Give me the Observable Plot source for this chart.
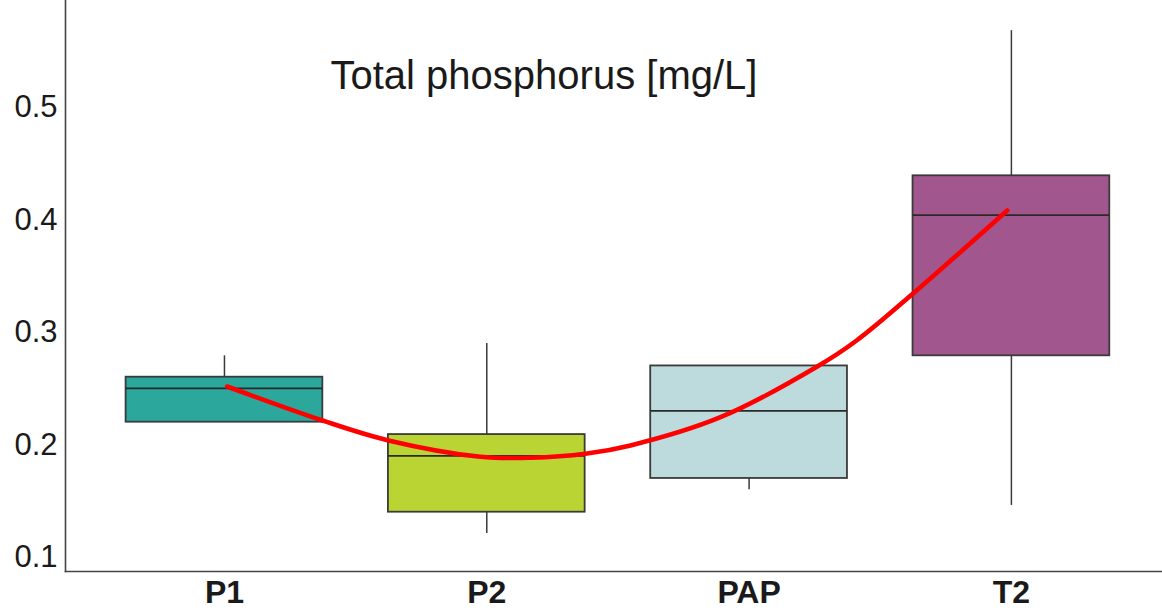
<!DOCTYPE html>
<html>
<head>
<meta charset="utf-8">
<script src="https://cdn.jsdelivr.net/npm/d3@7"></script>
<script src="https://cdn.jsdelivr.net/npm/@observablehq/plot@0.6"></script>
<style>
  html, body { margin: 0; padding: 0; background: #fff; }
  #chart svg { display: block; }
</style>
</head>
<body>
<div id="chart"></div>
<script>
// ---- data ----
const categories = ["P1", "P2", "PAP", "T2"];
const whiskerLow  = [0.22, 0.121, 0.16, 0.146];
const q1          = [0.22, 0.14, 0.17, 0.279];
const medians     = [0.25, 0.19, 0.23, 0.404];
const q3          = [0.26, 0.209, 0.27, 0.439];
const whiskerHigh = [0.279, 0.29, 0.27, 0.568];
const colors      = ["#2ba89b", "#b9d433", "#bddadd", "#a2568e"];

// red trend curve (x in category index units)
const trendX = [0.01, 0.374, 0.625, 0.976, 1.167, 1.376, 1.548, 1.891, 2.26, 2.41, 2.634, 2.984];
const trendY = [0.2517, 0.2215, 0.2038, 0.1893, 0.1884, 0.1919, 0.1993, 0.2244, 0.2695, 0.2926, 0.3362, 0.4082];

const yTicks = [0.1, 0.2, 0.3, 0.4, 0.5];
const title = "Total phosphorus [mg/L]";

// ---- tables ----
const boxes = categories.map((c, i) => ({
  cat: c, i, lo: whiskerLow[i], q1: q1[i], med: medians[i], q3: q3[i], hi: whiskerHigh[i], color: colors[i]
}));
const trend = trendX.map((x, k) => ({x, y: trendY[k]}));
const half = 0.375;

const font = "'Liberation Sans', Arial, Helvetica, sans-serif";
const stroke = "#3a3a3a";

const plot = Plot.plot({
  width: 1162,
  height: 614,
  marginLeft: 65,
  marginRight: 0,
  marginTop: 0,
  marginBottom: 43,
  style: {fontFamily: font, background: "#fff", color: "#1a1a1a"},
  x: {type: "linear", domain: [-0.606, 3.576]},
  y: {domain: [0.0873, 0.5948]},
  marks: [
    Plot.axisY({ticks: yTicks, tickSize: 0, tickPadding: 8, fontSize: 31, tickFormat: d3.format(".1f"), label: null}),
    Plot.axisX({ticks: categories.map((c, i) => i), tickFormat: i => categories[i], tickSize: 0, tickPadding: 9,
      fontSize: 32, fontWeight: "bold", label: null}),
    // whiskers
    Plot.ruleX(boxes, {x: "i", y1: "lo", y2: "q1", stroke, strokeWidth: 1.5}),
    Plot.ruleX(boxes, {x: "i", y1: "q3", y2: "hi", stroke, strokeWidth: 1.5}),
    // boxes
    Plot.rect(boxes, {x1: d => d.i - half, x2: d => d.i + half, y1: "q1", y2: "q3",
      fill: d => d.color, stroke, strokeWidth: 1.8}),
    // medians
    Plot.ruleY(boxes, {y: "med", x1: d => d.i - half, x2: d => d.i + half, stroke: "#2a2a2a", strokeWidth: 1.8}),
    // trend
    Plot.line(trend, {x: "x", y: "y", stroke: "#ff0000", strokeWidth: 4.6, curve: "catmull-rom"}),
    // axes lines
    Plot.frame({anchor: "left", stroke: "#444", strokeWidth: 1.6}),
    Plot.frame({anchor: "bottom", stroke: "#444", strokeWidth: 1.6}),
    // title
    Plot.text([title], {frameAnchor: "top-left", text: d => d, dx: 265, dy: 60, lineAnchor: "top",
      textAnchor: "start", fontSize: 40, fill: "#1a1a1a"})
  ]
});
document.getElementById("chart").appendChild(plot);
</script>
</body>
</html>
